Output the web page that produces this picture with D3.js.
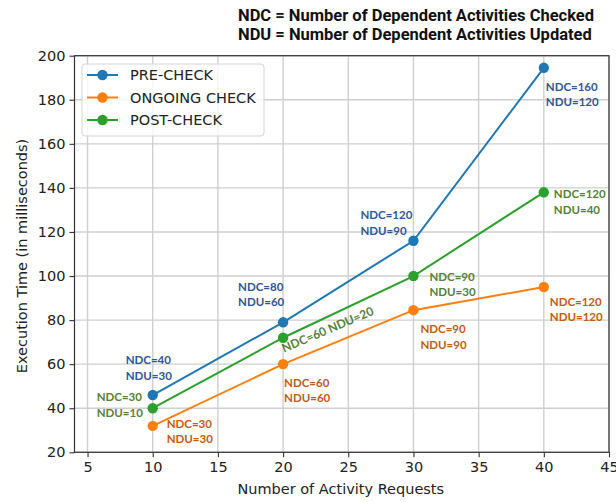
<!DOCTYPE html>
<html><head><meta charset="utf-8">
<script src="https://cdn.jsdelivr.net/npm/d3@7"></script>
<style>
html,body{margin:0;padding:0;background:#fff;}
svg{display:block;}
</style></head>
<body><svg id="c" width="616" height="502"></svg>
<script>
// ---- data ----
const requests = [10, 20, 30, 40];
const seriesNames = ["PRE-CHECK", "ONGOING CHECK", "POST-CHECK"];
const preCheck = [46, 79, 116, 194.5];
const ongoingCheck = [32, 60, 84.5, 95];
const postCheck = [40, 72, 100, 138];
const preLabels = [["NDC=40","NDU=30"],["NDC=80","NDU=60"],["NDC=120","NDU=90"],["NDC=160","NDU=120"]];
const ongoingLabels = [["NDC=30","NDU=30"],["NDC=60","NDU=60"],["NDC=90","NDU=90"],["NDC=120","NDU=120"]];
const postLabels = [["NDC=30","NDU=10"],["NDC=60 NDU=20"],["NDC=90","NDU=30"],["NDC=120","NDU=40"]];
const xTicks = [5, 10, 15, 20, 25, 30, 35, 40, 45];
const yTicks = [20, 40, 60, 80, 100, 120, 140, 160, 180, 200];
const titleLines = ["NDC = Number of Dependent Activities Checked", "NDU = Number of Dependent Activities Updated"];

// ---- styles / layout ----
const lineColors = ["#1f77b4", "#ff7f0e", "#2ca02c"];
const annColors = ["#2f5597", "#c55a11", "#548235"];
const seriesVals = [preCheck, ongoingCheck, postCheck];
const seriesAnn = [preLabels, ongoingLabels, postLabels];
const annOffsets = [
  [[-27,-35,-19],[-45,-35,-20],[-53,-26,-10],[2,19,34]],
  [[14,-2,13],[1,19,34],[7,19,35],[6,15,30]],
  [[-56,-11,5],null,[16,1,16],[10,2,18]]
];

const svg = d3.select("#c");
const m = {l:74.5, r:609, t:55.7, b:452.3};
const x = d3.scaleLinear().domain([4,45]).range([m.l, m.r]);
const y = d3.scaleLinear().domain([20,200]).range([m.b, m.t]);
const tickFont = "'DejaVu Sans', sans-serif";
const fs = "14.5px";

// grid
const g = svg.append("g");
g.selectAll(".gx").data(xTicks).enter().append("line")
  .attr("x1", d=>x(d)).attr("x2", d=>x(d)).attr("y1", m.t).attr("y2", m.b)
  .attr("stroke", "#cfcfcf").attr("stroke-width", 1.4);
g.selectAll(".gy").data(yTicks).enter().append("line")
  .attr("x1", m.l).attr("x2", m.r).attr("y1", d=>y(d)).attr("y2", d=>y(d))
  .attr("stroke", "#cfcfcf").attr("stroke-width", 1.4);

// axes
const xAxis = svg.append("g").attr("transform", `translate(0,${m.b})`)
  .call(d3.axisBottom(x).tickValues(xTicks).tickSize(5).tickPadding(4).tickFormat(d3.format("d")));
const yAxis = svg.append("g").attr("transform", `translate(${m.l},0)`)
  .call(d3.axisLeft(y).tickValues(yTicks).tickSize(5).tickPadding(4).tickFormat(d3.format("d")));
[xAxis, yAxis].forEach(a => {
  a.attr("font-family", tickFont).attr("font-size", fs);
  a.select(".domain").remove();
  a.selectAll("line").attr("stroke", "#333").attr("stroke-width", 1.1);
  a.selectAll("text").style("font-family", tickFont).style("font-size", fs).attr("fill", "#222");
});
// frame
svg.append("rect").attr("x", m.l).attr("y", m.t).attr("width", m.r-m.l).attr("height", m.b-m.t)
  .attr("fill", "none").attr("stroke", "#333").attr("stroke-width", 1.2);

// axis labels
svg.append("text").attr("x", (m.l+m.r)/2 - 1).attr("y", 494)
  .attr("text-anchor", "middle").style("font-family", tickFont).style("font-size", fs).attr("fill", "#222")
  .text("Number of Activity Requests");
svg.append("text").attr("transform", `translate(27,${(m.t+m.b)/2 + 2}) rotate(-90)`)
  .attr("text-anchor", "middle").style("font-family", tickFont).style("font-size", fs).attr("fill", "#222")
  .text("Execution Time (in milliseconds)");

// lines
const line = d3.line().x((d,i)=>x(requests[i])).y(d=>y(d));
seriesVals.forEach((vals, s) => {
  svg.append("path").datum(vals).attr("d", line).attr("fill", "none")
    .attr("stroke", lineColors[s]).attr("stroke-width", 2);
  svg.selectAll(".pt"+s).data(vals).enter().append("circle")
    .attr("cx", (d,i)=>x(requests[i])).attr("cy", d=>y(d)).attr("r", 5.2).attr("fill", lineColors[s]);
});

// annotations
const annFont = "Lato";
const annFs = "11.5px";
seriesAnn.forEach((labs, s) => {
  labs.forEach((lab, i) => {
    const px = x(requests[i]), py = y(seriesVals[s][i]);
    const off = annOffsets[s][i];
    if (!off) {
      svg.append("text").attr("transform", `translate(${px+1},${py+15}) rotate(-23)`)
        .style("font-family", annFont).attr("font-weight", "bold").style("font-size", "12px")
        .attr("fill", annColors[s]).text(lab[0]);
      return;
    }
    lab.forEach((t, k) => {
      svg.append("text").attr("x", px+off[0]).attr("y", py+off[k+1]).attr("dy", "0.35em")
        .style("font-family", annFont).attr("font-weight", "bold").style("font-size", annFs)
        .attr("fill", annColors[s]).text(t);
    });
  });
});

// title
titleLines.forEach((t, k) => {
  svg.append("text").attr("x", 238).attr("y", 15 + k*19).attr("dy", "0.35em")
    .style("font-family", "Roboto").attr("font-weight", "bold").style("font-size", "16.5px")
    .attr("fill", "#111").text(t);
});

// legend
const lg = svg.append("g");
lg.append("rect").attr("x", 82).attr("y", 64).attr("width", 182).attr("height", 72)
  .attr("rx", 3).attr("fill", "#fff").attr("fill-opacity", 0.8).attr("stroke", "#d5d5d5");
seriesNames.forEach((n, s) => {
  const ly = 75 + s*22.5;
  lg.append("line").attr("x1", 87).attr("x2", 118).attr("y1", ly).attr("y2", ly)
    .attr("stroke", lineColors[s]).attr("stroke-width", 2);
  lg.append("circle").attr("cx", 102.5).attr("cy", ly).attr("r", 5.2).attr("fill", lineColors[s]);
  lg.append("text").attr("x", 130).attr("y", ly).attr("dy", "0.35em")
    .style("font-family", tickFont).style("font-size", fs).attr("fill", "#222").text(n);
});
</script></body></html>
